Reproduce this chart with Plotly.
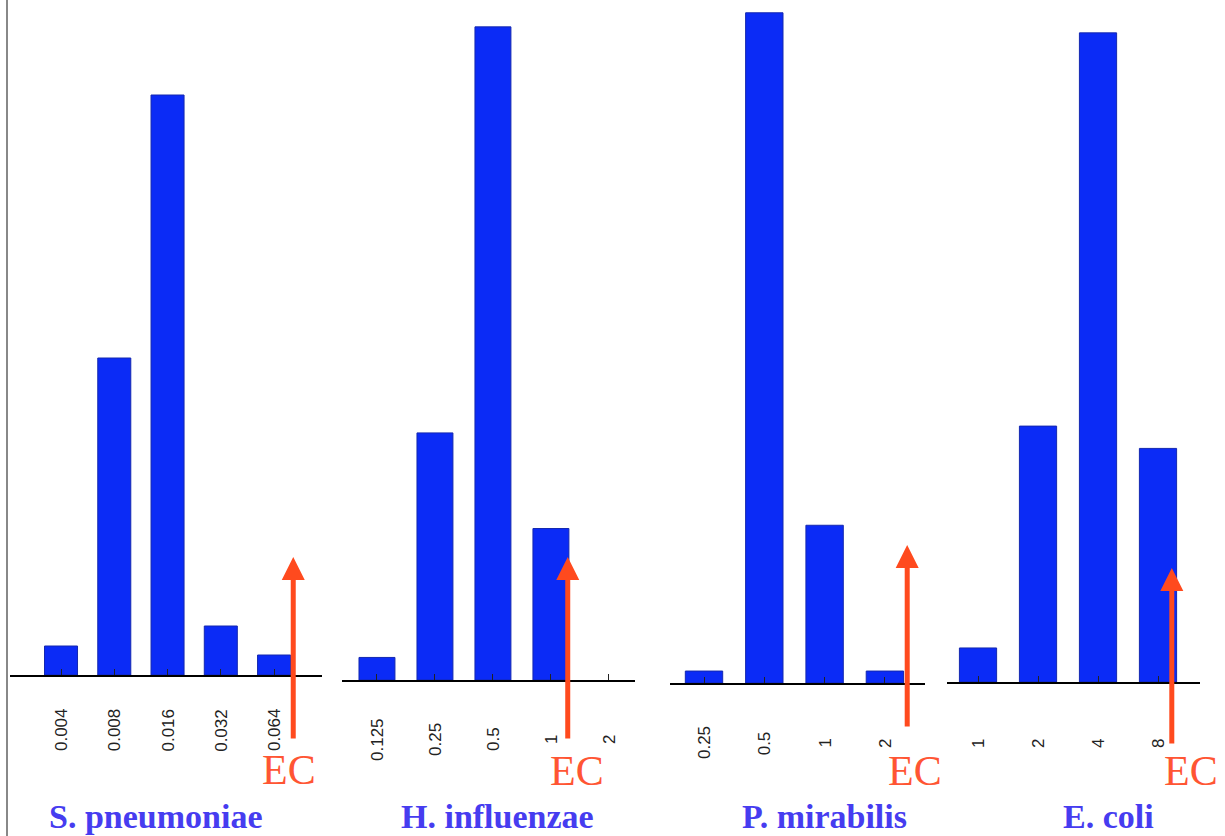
import plotly.graph_objects as go

W, H = 1225, 836

# ---- data ----
organisms = ["S. pneumoniae", "H. influenzae", "P. mirabilis", "E. coli"]
sp_mic = ["0.004", "0.008", "0.016", "0.032", "0.064"]
sp_pct = [2.9, 31.7, 58.0, 4.9, 2.0]
hi_mic = ["0.125", "0.25", "0.5", "1", "2"]
hi_pct = [2.1, 23.0, 60.8, 14.1, 0.0]
pm_mic = ["0.25", "0.5", "1", "2"]
pm_pct = [1.4, 78.6, 18.5, 1.4]
ec_mic = ["1", "2", "4", "8"]
ec_pct = [2.9, 21.8, 55.3, 19.9]
ec_position = [4.36, 3.29, 3.37, 3.23]  # EC arrow position on category index scale
ec_label = "EC"

mics = [sp_mic, hi_mic, pm_mic, ec_mic]
pcts = [sp_pct, hi_pct, pm_pct, ec_pct]

# ---- layout geometry (pixels) ----
x_px = [(10, 322), (342, 635), (670, 925), (947, 1200)]
x_range = [(-0.958, 4.90), (-0.603, 4.45), (-0.564, 3.665), (-0.517, 3.70)]
base_px = [675, 680, 683, 682]
y_max = [67.5, 63.3, 80.1, 58.1]
label_cy = [730, 739, 743, 744]
arrow_tip = [557, 557, 545, 568]
arrow_bot = [740, 740, 728, 745]
ec_xy = [(289, 770), (577, 771), (915, 771), (1191, 771)]
title_x = [156, 497, 824, 1108]

BAR = "#0B2BF6"
ARROW = "#FF4A1E"
TITLE = "#463CF0"

fig = go.Figure()
layout = dict(
    width=W, height=H, margin=dict(l=0, r=0, t=0, b=0),
    paper_bgcolor="white", plot_bgcolor="white", showlegend=False,
    bargap=0.38,
)
annotations = []
for i in range(4):
    n = i + 1
    xa = "x" if n == 1 else f"x{n}"
    ya = "y" if n == 1 else f"y{n}"
    fig.add_trace(go.Bar(
        x=mics[i], y=pcts[i], xaxis=xa, yaxis=ya,
        marker=dict(color=BAR,
                    line=dict(color="#1428B0", width=[1 if v > 0 else 0 for v in pcts[i]])),
        hoverinfo="x+y",
    ))
    layout[f"xaxis{'' if n == 1 else n}"] = dict(
        domain=[x_px[i][0] / W, x_px[i][1] / W], anchor=ya,
        type="category", categoryorder="array", categoryarray=mics[i],
        range=list(x_range[i]), showline=True, linecolor="black", linewidth=1.5,
        ticks="inside", ticklen=6, tickcolor="#222", tickwidth=1,
        showticklabels=False, showgrid=False, zeroline=False, fixedrange=True,
    )
    layout[f"yaxis{'' if n == 1 else n}"] = dict(
        domain=[1 - base_px[i] / H, 1], anchor=xa, range=[0, y_max[i]],
        visible=False, fixedrange=True,
    )
    # rotated MIC tick labels placed on the category axis (by category index)
    for k, c in enumerate(mics[i]):
        annotations.append(dict(
            xref=xa, x=k, yref="paper", y=1 - label_cy[i] / H,
            text=c, textangle=-90, showarrow=False,
            xanchor="center", yanchor="middle",
            font=dict(family="Liberation Sans, Arial, sans-serif", size=17, color="#222"),
        ))
    # EC arrow
    annotations.append(dict(
        xref=xa, x=ec_position[i], yref="paper", y=1 - arrow_tip[i] / H,
        ax=0, ay=arrow_bot[i] - arrow_tip[i], text="", showarrow=True,
        arrowhead=2, arrowsize=0.92, arrowwidth=5, arrowcolor=ARROW,
    ))
    annotations.append(dict(
        xref="paper", yref="paper", x=ec_xy[i][0] / W, y=1 - ec_xy[i][1] / H,
        text=ec_label, showarrow=False, xanchor="center", yanchor="middle",
        font=dict(family="Liberation Serif, Times New Roman, serif", size=42, color="#FF5533"),
    ))
    annotations.append(dict(
        xref="paper", yref="paper", x=title_x[i] / W, y=0,
        text=f"<b>{organisms[i]}</b>", showarrow=False, xanchor="center", yanchor="bottom",
        borderpad=0,
        font=dict(family="Liberation Serif, Times New Roman, serif", size=34, color=TITLE),
    ))

layout["annotations"] = annotations
layout["shapes"] = [dict(type="line", xref="paper", yref="paper",
                         x0=7 / W, x1=7 / W, y0=0, y1=1,
                         line=dict(color="#888888", width=2))]
fig.update_layout(**layout)
fig.write_html("out.html", config={"displayModeBar": False},
               post_script="document.body.style.margin='0';document.body.style.overflow='hidden';")
